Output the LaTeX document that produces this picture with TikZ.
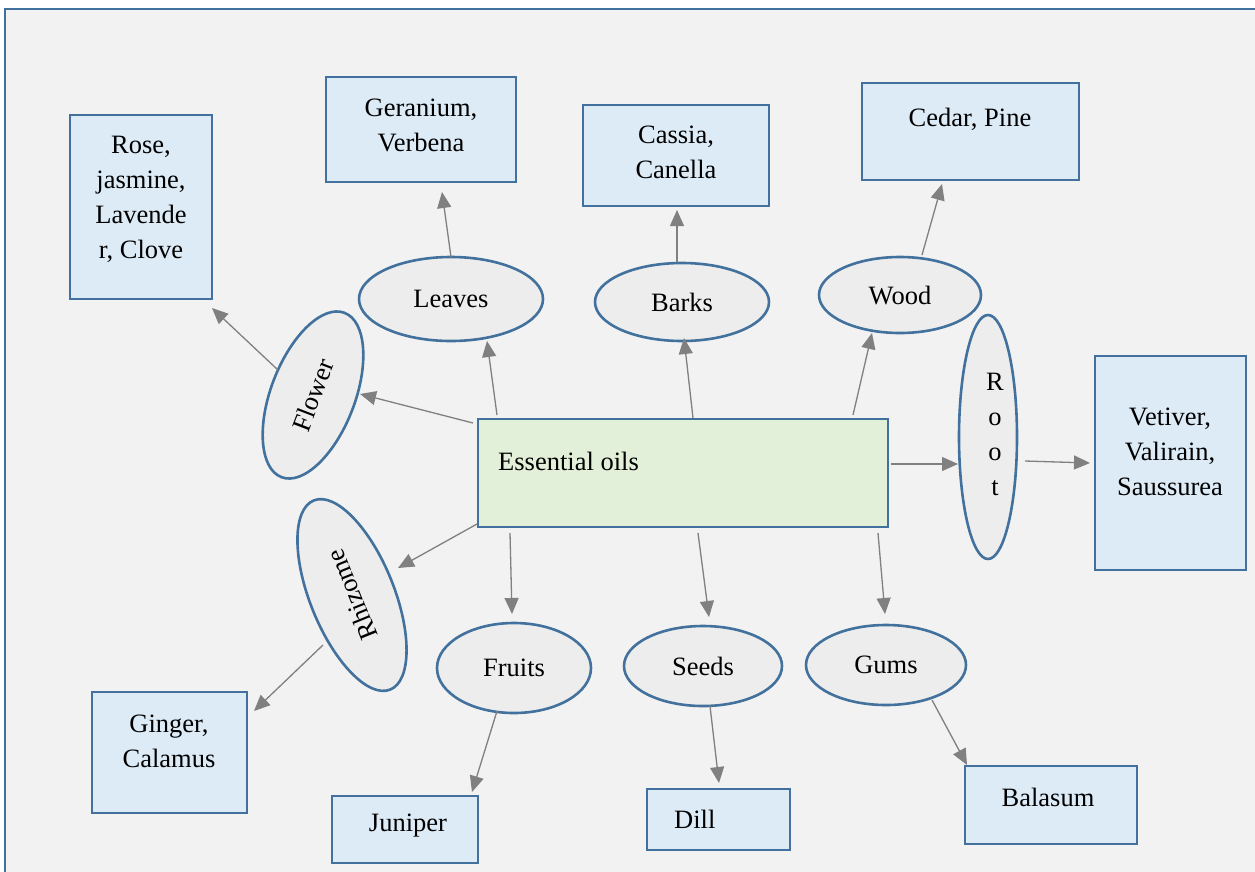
\documentclass[tikz,border=0pt]{standalone}
\usepackage{fontspec}
\setmainfont{Liberation Serif}
\usetikzlibrary{shapes.geometric,arrows.meta}
\definecolor{bord}{HTML}{41719C}
\definecolor{boxfill}{HTML}{DDEBF7}
\definecolor{eofill}{HTML}{E2F0D9}
\definecolor{ovalfill}{HTML}{EDEDED}
\definecolor{bgfill}{HTML}{F2F2F2}
\definecolor{arrgray}{HTML}{808080}
\begin{document}
\begin{tikzpicture}[x=1pt,y=-1pt,
  box/.style={draw=bord,line width=2.6pt,fill=boxfill,inner sep=0pt},
  oval/.style={ellipse,draw=bord,line width=2.6pt,fill=ovalfill,inner sep=0pt,font=\fontsize{26.5}{35}\selectfont,align=center},
  txt/.style={font=\fontsize{26.5}{35}\selectfont,align=center,inner sep=0pt},
  arr/.style={draw=arrgray,line width=1.3pt,-{Triangle[length=16pt,width=14pt]}}]
\useasboundingbox (0,0) rectangle (1255,871);
\fill[white] (0,0) rectangle (1255,871);
\draw[draw=bord,line width=2.6pt,fill=bgfill] (5,9) rectangle (1265,885);

% boxes
\node[box,fill=eofill,minimum width=410pt,minimum height=108pt] (eo) at (683,473) {};
\node[txt,anchor=west] (eot) at (498,461) {Essential oils};
\node[box,minimum width=142pt,minimum height=184pt] (rose) at (141,207) {};
\node[txt] (roset) at (141,199) {Rose,\\jasmine,\\Lavende\\r, Clove};
\node[box,minimum width=190pt,minimum height=105pt] (ger) at (421,129.5) {};
\node[txt] (gert) at (421,125) {Geranium,\\Verbena};
\node[box,minimum width=186pt,minimum height=101pt] (cas) at (676,155.5) {};
\node[txt] (cast) at (676,152) {Cassia,\\Canella};
\node[box,minimum width=217pt,minimum height=97pt] (ced) at (970.5,131.5) {};
\node[txt] (cedt) at (970,119) {Cedar, Pine};
\node[box,minimum width=151pt,minimum height=214pt] (vet) at (1170.5,463) {};
\node[txt] (vett) at (1170,452) {Vetiver,\\Valirain,\\Saussurea};
\node[box,minimum width=155pt,minimum height=121pt] (gin) at (169.5,752.5) {};
\node[txt] (gint) at (169,741) {Ginger,\\Calamus};
\node[box,minimum width=146pt,minimum height=67pt] (jun) at (405,829.5) {};
\node[txt] (junt) at (408,826) {Juniper};
\node[box,minimum width=143pt,minimum height=61pt] (dill) at (718.5,819.5) {};
\node[txt,anchor=west] (dillt) at (674,819) {Dill};
\node[box,minimum width=172pt,minimum height=78pt] (bal) at (1051,805) {};
\node[txt] (balt) at (1048,797) {Balasum};

% ellipses
\node[oval,minimum width=184pt,minimum height=84pt] (leaves) at (451,299) {Leaves};
\node[oval,minimum width=174pt,minimum height=78pt] (barks) at (682,302) {Barks};
\node[oval,minimum width=162pt,minimum height=76pt] (wood) at (900,295) {Wood};
\node[oval,minimum width=154pt,minimum height=90pt] (fruits) at (514,668) {Fruits};
\node[oval,minimum width=158pt,minimum height=80pt] (seeds) at (703,666) {Seeds};
\node[oval,minimum width=160pt,minimum height=80pt] (gums) at (886,665) {Gums};
\node[oval,minimum width=176pt,minimum height=84pt,rotate=69] (flower) at (313,395) {Flower};
\node[oval,minimum width=204pt,minimum height=84pt,rotate=112] (rhizome) at (352,595) {Rhizome};
\node[oval,minimum width=58pt,minimum height=244pt] (root) at (988,437) {};
\node[txt] (roott) at (995,434) {R\\o\\o\\t};

% arrows
\draw[arr] ([shift={(-210,-50)}]eo.center) -- ([shift={(47,-1)}]flower.center);
\draw[arr] ([shift={(-186,-58)}]eo.center) -- ([shift={(36,42)}]leaves.center);
\draw[arr] ([shift={(10,-55)}]eo.center) -- ([shift={(2,36)}]barks.center);
\draw[arr] ([shift={(170,-58)}]eo.center) -- ([shift={(-28,38)}]wood.center);
\draw[arr] ([shift={(208,-9)}]eo.center) -- ([shift={(-30,27)}]root.center);
\draw[arr] ([shift={(37,24)}]root.center) -- ([shift={(-80.5,0)}]vet.center);
\draw[arr] ([shift={(-206,51)}]eo.center) -- ([shift={(46,-27)}]rhizome.center);
\draw[arr] ([shift={(-173,60)}]eo.center) -- ([shift={(-2,-54)}]fruits.center);
\draw[arr] ([shift={(15,60)}]eo.center) -- ([shift={(6,-49)}]seeds.center);
\draw[arr] ([shift={(195,60)}]eo.center) -- ([shift={(-1,-51)}]gums.center);
\draw[arr] ([shift={(-35,-25)}]flower.center) -- ([shift={(71,101)}]rose.center);
\draw[arr] ([shift={(0,-42)}]leaves.center) -- ([shift={(21,62.5)}]ger.center);
\draw[arr] ([shift={(-5,-40)}]barks.center) -- ([shift={(1,54.5)}]cas.center);
\draw[arr] ([shift={(22,-40)}]wood.center) -- ([shift={(-28.5,52.5)}]ced.center);
\draw[arr] ([shift={(-29,50)}]rhizome.center) -- ([shift={(84.5,-41.5)}]gin.center);
\draw[arr] ([shift={(-17,43)}]fruits.center) -- ([shift={(67,-37.5)}]jun.center);
\draw[arr] ([shift={(7,40)}]seeds.center) -- ([shift={(0.5,-36.5)}]dill.center);
\draw[arr] ([shift={(46,35)}]gums.center) -- ([shift={(-84,-40)}]bal.center);
\end{tikzpicture}
\end{document}
